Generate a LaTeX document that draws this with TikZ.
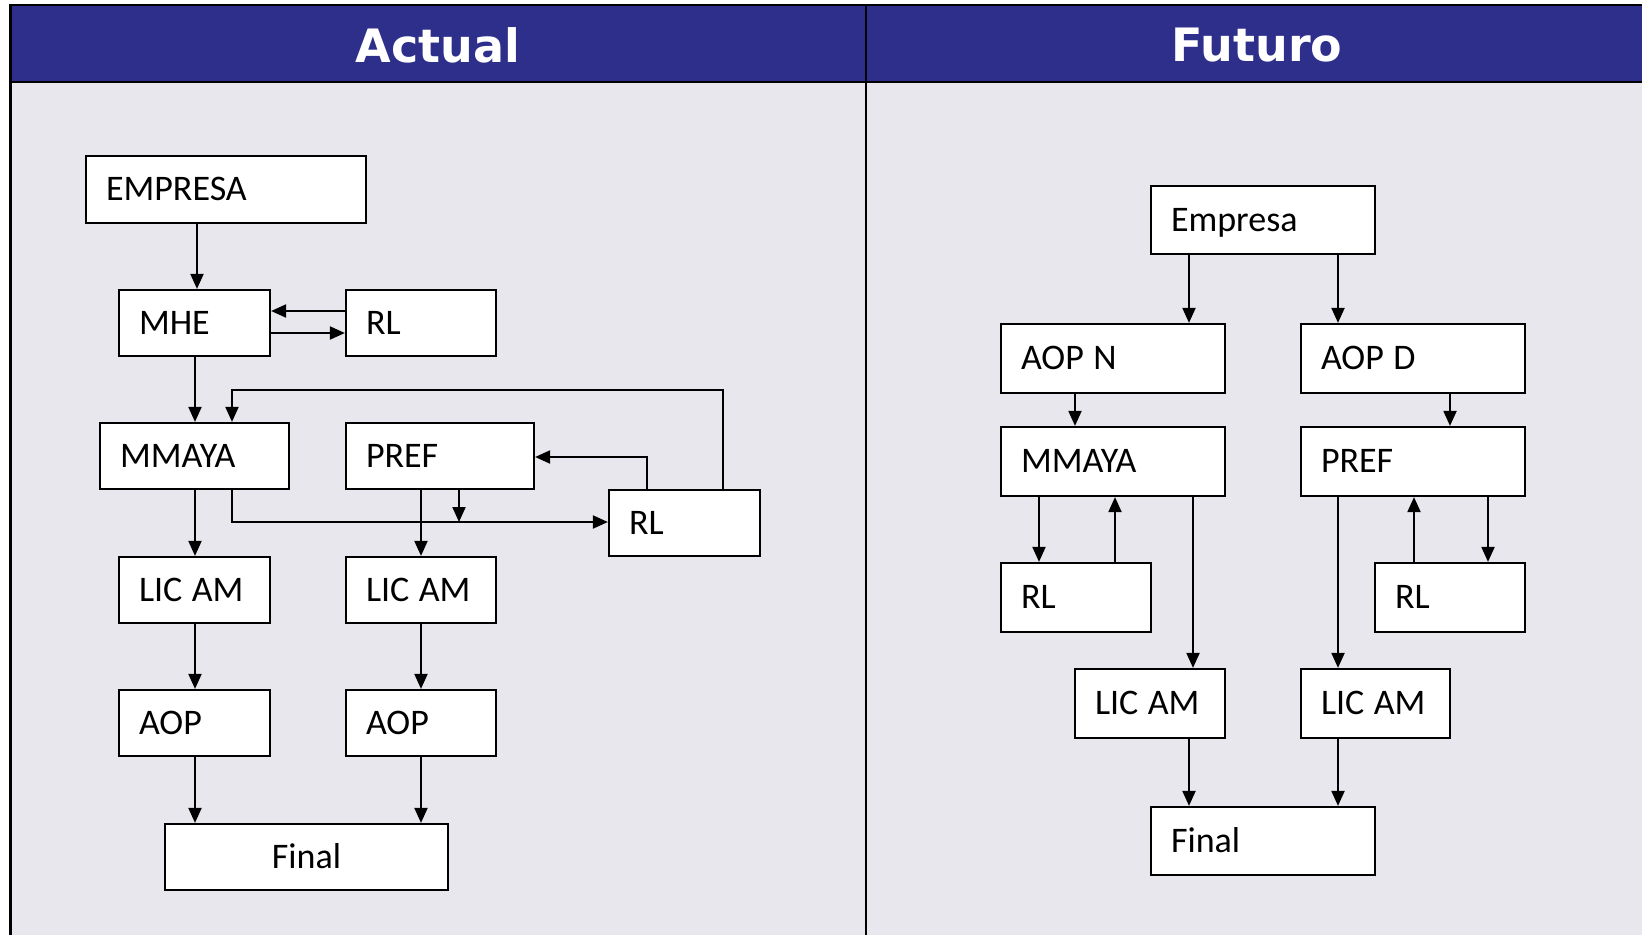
\documentclass[tikz,border=0pt]{standalone}
\usepackage{fontspec}
\setmainfont{Carlito}
\newfontfamily\hdrfont{DejaVu Sans}
\usetikzlibrary{arrows.meta}
\definecolor{hdrblue}{RGB}{45,47,138}
\definecolor{panelgray}{RGB}{232,231,237}
\newcommand\wsp{\hspace{9.5pt}}
\tikzset{
  box/.style={draw=black, fill=white, line width=2.2pt, inner xsep=20pt, inner ysep=0pt,
    align=left, text height=22.8pt, text depth=0pt, font=\fontsize{36}{40}\selectfont},
  arr/.style={line width=2pt, -{Triangle[length=15pt,width=13pt]}},
  hdr/.style={text=white, font=\hdrfont\bfseries\fontsize{46}{52}\selectfont},
  frame/.style={line width=2.4pt, draw=black}
}
\newcommand\bx[7][box]{%
  \pgfmathsetmacro\bw{#5-#3}\pgfmathsetmacro\bh{#6-#4}\pgfmathsetmacro\tw{#5-#3-40}%
  \node[#1, minimum width=\bw pt, minimum height=\bh pt, text width=\tw pt] (#2) at ({(#3+#5)/2},{(#4+#6)/2}) {#7};}
\begin{document}
\begin{tikzpicture}[x=1pt,y=-1pt]
\useasboundingbox (0,0) rectangle (1642,935);
\fill[white] (0,0) rectangle (1642,935);
% panels
\fill[panelgray] (10.5,82) rectangle (1642,935);
\fill[hdrblue] (10.5,5) rectangle (1642,82);
\draw[frame] (1642,5) -- (10.5,5) -- (10.5,935);
\draw[frame] (10.5,82) -- (1642,82);
\draw[frame] (866,5) -- (866,935);
\node[hdr] (tA) at (438,45) {Actual};
\node[hdr] (tF) at (1257,45) {Futuro};
% ---------- left ----------
\bx{emp}{86}{156}{366}{223}{EMPRESA}
\bx{mhe}{119}{290}{270}{356}{MHE}
\bx{rla}{346}{290}{496}{356}{RL}
\bx{mma}{100}{423}{289}{489}{MMAYA}
\bx{prf}{346}{423}{534}{489}{PREF}
\bx{rlb}{609}{490}{760}{556}{RL}
\bx{lca}{119}{557}{270}{623}{LIC\wsp AM}
\bx{lcb}{346}{557}{496}{623}{LIC\wsp AM}
\bx{aoa}{119}{690}{270}{756}{AOP}
\bx{aob}{346}{690}{496}{756}{AOP}
\bx[box,align=center]{fna}{165}{824}{448}{890}{Final}
\draw[arr] (emp.south -| 197,0) -- (mhe.north -| 197,0);
\draw[arr] (rla.west |- 0,311) -- (mhe.east |- 0,311);
\draw[arr] (mhe.east |- 0,333) -- (rla.west |- 0,333);
\draw[arr] (mhe.south -| 195,0) -- (mma.north -| 195,0);
\draw[arr] (mma.south -| 195,0) -- (lca.north -| 195,0);
\draw[arr] (rlb.north -| 723,0) -- (723,390) -- (232,390) -- (mma.north -| 232,0);
\draw[arr] (rlb.north -| 647,0) -- (647,457) -- (prf.east |- 0,457);
\draw[arr] (mma.south -| 232,0) -- (232,522) -- (rlb.west |- 0,522);
\coordinate (jn) at (459,522);
\draw[arr] (prf.south -| 459,0) -- (jn);
\draw[arr] (prf.south -| 421,0) -- (lcb.north -| 421,0);
\draw[arr] (lca.south -| 195,0) -- (aoa.north -| 195,0);
\draw[arr] (lcb.south -| 421,0) -- (aob.north -| 421,0);
\draw[arr] (aoa.south -| 195,0) -- (fna.north -| 195,0);
\draw[arr] (aob.south -| 421,0) -- (fna.north -| 421,0);
% ---------- right ----------
\bx{emq}{1151}{186}{1375}{254}{Empresa}
\bx{aon}{1001}{324}{1225}{393}{AOP\wsp N}
\bx{aod}{1301}{324}{1525}{393}{AOP\wsp D}
\bx{mmb}{1001}{427}{1225}{496}{MMAYA}
\bx{prg}{1301}{427}{1525}{496}{PREF}
\bx{rlc}{1001}{563}{1151}{632}{RL}
\bx{rld}{1375}{563}{1525}{632}{RL}
\bx{lcc}{1075}{669}{1225}{738}{LIC\wsp AM}
\bx{lcd}{1301}{669}{1450}{738}{LIC\wsp AM}
\bx{fnb}{1151}{807}{1375}{875}{Final}
\draw[arr] (emq.south -| 1189,0) -- (aon.north -| 1189,0);
\draw[arr] (emq.south -| 1338,0) -- (aod.north -| 1338,0);
\draw[arr] (aon.south -| 1075,0) -- (mmb.north -| 1075,0);
\draw[arr] (aod.south -| 1450,0) -- (prg.north -| 1450,0);
\draw[arr] (mmb.south -| 1039,0) -- (rlc.north -| 1039,0);
\draw[arr] (rlc.north -| 1115,0) -- (mmb.south -| 1115,0);
\draw[arr] (mmb.south -| 1193,0) -- (lcc.north -| 1193,0);
\draw[arr] (prg.south -| 1338,0) -- (lcd.north -| 1338,0);
\draw[arr] (rld.north -| 1414,0) -- (prg.south -| 1414,0);
\draw[arr] (prg.south -| 1488,0) -- (rld.north -| 1488,0);
\draw[arr] (lcc.south -| 1189,0) -- (fnb.north -| 1189,0);
\draw[arr] (lcd.south -| 1338,0) -- (fnb.north -| 1338,0);
\end{tikzpicture}
\end{document}
